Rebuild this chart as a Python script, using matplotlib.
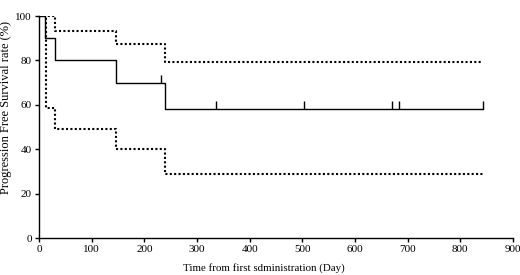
import matplotlib
matplotlib.use('Agg')
import matplotlib.pyplot as plt

# Kaplan-Meier estimate (step positions)
km_days = [0, 11, 30, 146, 239, 843]
km_surv = [100, 90, 80, 70, 58.3, 58.3]

# censored observations
cens_days = [232, 336, 503, 670, 684, 843]
cens_surv = [70, 58.3, 58.3, 58.3, 58.3, 58.3]

# 95% confidence band
upper_days = [0, 30, 146, 239, 843]
upper_surv = [100, 93.3, 87.3, 79.5, 79.5]
lower_days = [0, 14, 31, 146, 239, 843]
lower_surv = [100, 58.5, 49.3, 40.0, 28.9, 28.9]

plt.rcParams['font.family'] = ['Liberation Serif', 'DejaVu Serif']

fig = plt.figure(figsize=(5.2, 2.75), dpi=100)
ax = fig.add_axes([0.075, 0.1345, 0.9115, 0.807])

ax.step(km_days, km_surv, where='post', color='black', lw=1.0, zorder=3)
dots = (0, (1, 1.1))
ax.step(upper_days, upper_surv, where='post', color='black', lw=1.5,
        linestyle=dots, zorder=2)
ax.step(lower_days, lower_surv, where='post', color='black', lw=1.5,
        linestyle=dots, zorder=2)
ax.vlines(cens_days, cens_surv, [s + 3.5 for s in cens_surv],
          color='black', lw=1.0, zorder=3)

ax.set_xlim(0, 900)
ax.set_ylim(0, 100)
ax.set_xticks(range(0, 901, 100))
ax.set_yticks(range(0, 101, 20))
for s in ['top', 'right']:
    ax.spines[s].set_visible(False)
for s in ['left', 'bottom']:
    ax.spines[s].set_linewidth(1.0)
ax.tick_params(direction='out', length=3, width=1.0, labelsize=8, pad=2)

ax.set_xlabel('Time from first sdministration (Day)', fontsize=7.8)
ax.xaxis.set_label_coords(0.475, -0.115)
ax.set_ylabel('Progression Free Survival rate (%)', fontsize=9)
ax.yaxis.set_label_coords(-0.056, 0.59)

fig.savefig('out.png', dpi=100, facecolor='white')
